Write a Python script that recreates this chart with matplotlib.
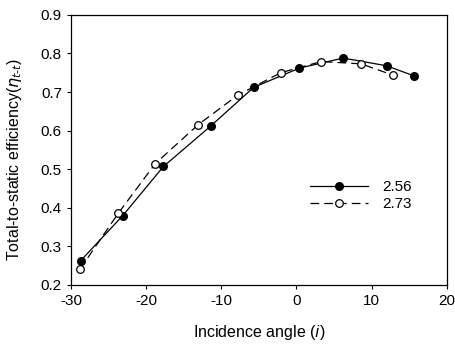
import matplotlib
matplotlib.use('Agg')
import matplotlib.pyplot as plt

plt.rcParams['font.family'] = ['Liberation Sans', 'DejaVu Sans']
plt.rcParams['axes.unicode_minus'] = False

# ratio 2.56
x256 = [-28.7, -23.1, -17.7, -11.4, -5.7, 0.4, 6.2, 12.0, 15.6]
y256 = [0.263, 0.380, 0.507, 0.612, 0.712, 0.762, 0.788, 0.768, 0.742]
# ratio 2.73
x273 = [-28.8, -23.7, -18.8, -13.1, -7.8, -2.1, 3.3, 8.6, 12.8]
y273 = [0.241, 0.386, 0.514, 0.615, 0.692, 0.750, 0.779, 0.773, 0.744]

fig = plt.figure(figsize=(4.55, 3.45), dpi=100)
ax = fig.add_axes([0.156, 0.174, 0.826, 0.783])

ax.plot(x256, y256, '-', color='black', lw=0.9, marker='o', ms=5.5,
        mfc='black', mec='black', label='2.56')
ax.plot(x273, y273, color='black', lw=0.9, dashes=(7, 4), marker='o', ms=5.5,
        mfc='white', mec='black', mew=0.9, label='2.73')

ax.set_xlim(-30, 20)
ax.set_ylim(0.2, 0.9)
ax.set_xticks([-30, -20, -10, 0, 10, 20])
ax.set_yticks([0.2, 0.3, 0.4, 0.5, 0.6, 0.7, 0.8, 0.9])
ax.set_yticklabels(['0.2', '0.3', '0.4', '0.5', '0.6', '0.7', '0.8', '0.9'])
ax.tick_params(direction='out', length=3, width=0.8, labelsize=11)
for s in ax.spines.values():
    s.set_linewidth(0.9)

ax.set_xlabel('Incidence angle ($\\it{i}$)', fontsize=11.5, labelpad=11)
ax.set_ylabel('Total-to-static efficiency($\\eta_{t\\text{-}t}$)', fontsize=11.5)
ax.yaxis.set_label_coords(-0.125, 0.465)

ax.legend(loc='center left', bbox_to_anchor=(0.6, 0.33), frameon=False,
          handlelength=3.8, fontsize=11, labelspacing=0.2, handletextpad=0.9)

fig.savefig('out.png', dpi=100)
